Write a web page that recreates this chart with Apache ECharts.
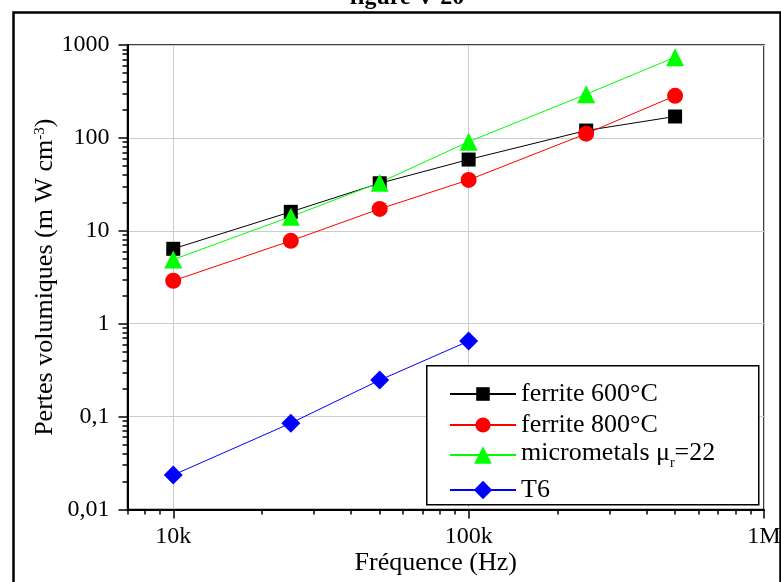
<!DOCTYPE html>
<html><head><meta charset="utf-8">
<script src="https://cdn.jsdelivr.net/npm/echarts@6/dist/echarts.min.js"></script>
<style>html,body{margin:0;padding:0;background:#fff}#c{width:781px;height:582px}</style>
</head><body><div id="c"></div>
<script>
// ---- data ----
const frequencies = [10000, 25000, 50000, 100000, 250000, 500000];
const ferrite600 = [6.4, 16, 32.5, 58.5, 120, 170];
const ferrite800 = [2.9, 7.8, 17.2, 35.3, 111, 284];
const micrometals = [4.9, 14.2, 33, 91, 295, 740];
const t6Freq = [10000, 25000, 50000, 100000];
const t6 = [0.0235, 0.085, 0.247, 0.65];
const seriesNames = ['ferrite 600°C', 'ferrite 800°C', 'micrometals μr=22', 'T6'];
const yMajor = [0.01, 0.1, 1, 10, 100, 1000];
const yTickLabels = ['0,01', '0,1', '1', '10', '100', '1000'];
const xMajor = [10000, 100000, 1000000];
const xTickLabels = ['10k', '100k', '1M'];
const titleText = 'figure V-20';
const xName = 'Fréquence (Hz)';

// minor ticks 2..9 per decade
function minors(lo, hi) {
  const out = [];
  for (let d = lo; d < hi; d *= 10) for (let k = 2; k <= 9; k++) {
    out.push(+(k * d).toPrecision(6));
  }
  return out;
}
const yMinor = minors(0.01, 1000);
const xMinor = minors(1000, 1000000).filter(v => v >= 7000);

function lookup(majors, labels, v) {
  for (let i = 0; i < majors.length; i++) if (Math.abs(v / majors[i] - 1) < 1e-6) return labels[i];
  return '';
}

const FONT = '"Liberation Serif", "Times New Roman", serif';
const pairs = (xs, ys) => xs.map((x, i) => [x, ys[i]]);

// one legend block per row
const legendRowCentres = [394, 425, 455, 490];
const legendIconHeights = [17, 19, 22, 23];
const legends = seriesNames.map((n, i) => {
  const base = {
    orient: 'vertical', left: 449, top: legendRowCentres[i] - 13, z: 60,
    padding: 0, itemWidth: 66, itemHeight: legendIconHeights[i], itemGap: 0, data: [n]
  };
  if (i === 2) {
    base.top = legendRowCentres[i] - 15;
    base.formatter = () => '{a|micrometals μ}{b|r}{a|=22}';
    base.textStyle = {fontFamily: FONT, fontSize: 26, color: '#000', padding: 0,
      rich: {a: {fontFamily: FONT, fontSize: 26, color: '#000', lineHeight: 19, verticalAlign: 'top'},
             b: {fontFamily: FONT, fontSize: 14, color: '#000', lineHeight: 30, verticalAlign: 'bottom'}}};
  } else {
    base.textStyle = {fontFamily: FONT, fontSize: 26, color: '#000', lineHeight: 19, padding: [0, 0, 7, 0]};
  }
  return base;
});

const chart = echarts.init(document.getElementById('c'), null, {renderer: 'canvas'});
chart.setOption({
  animation: false,
  backgroundColor: '#fff',
  title: {
    text: titleText, left: 402, textAlign: 'center', top: -19,
    textStyle: {fontFamily: FONT, fontWeight: 'bold', fontSize: 24, color: '#000'}
  },
  graphic: [
    {type: 'rect', left: 11, top: 10, z: 0, silent: true,
     shape: {width: 767, height: 620}, style: {fill: 'none', stroke: '#000', lineWidth: 2.5}},
    {type: 'rect', left: 426, top: 365, z: 50, silent: true,
     shape: {width: 332, height: 139}, style: {fill: '#fff', stroke: '#000', lineWidth: 1.5}}
  ],
  grid: {left: 127.5, right: 17, top: 45, bottom: 72.5, outerBoundsMode: 'none', containLabel: false,
         show: true, borderColor: '#000', borderWidth: 1.5, backgroundColor: 'transparent'},
  xAxis: [
    {type: 'log', logBase: 10, min: 7000, max: 1000000, position: 'bottom',
     name: xName, nameLocation: 'middle', nameGap: 41, nameMoveOverlap: false,
     nameTextStyle: {fontFamily: FONT, fontSize: 26, color: '#000', padding: [0, 20, 0, 0]},
     axisLine: {show: true, lineStyle: {color: '#000', width: 2}},
     axisTick: {show: true, inside: false, length: 9, lineStyle: {color: '#000', width: 1.5}, customValues: xMajor},
     axisLabel: {show: true, margin: 15, fontFamily: FONT, fontSize: 24, color: '#000', customValues: xMajor,
       formatter: v => lookup(xMajor, xTickLabels, v)},
     splitLine: {show: true, lineStyle: {color: '#cccccc', width: 1}}},
    {type: 'log', logBase: 10, min: 7000, max: 1000000, position: 'bottom',
     axisLine: {show: false}, axisLabel: {show: false}, splitLine: {show: false},
     axisTick: {show: true, inside: false, length: 5, lineStyle: {color: '#000', width: 1.5}, customValues: xMinor}}
  ],
  yAxis: [
    {type: 'log', logBase: 10, min: 0.01, max: 1000, position: 'left',
     name: 'Pertes volumiques (m W cm{sup|-3})', nameLocation: 'middle', nameGap: 69, nameMoveOverlap: false,
     nameTextStyle: {fontFamily: FONT, fontSize: 26, color: '#000',
       rich: {sup: {fontFamily: FONT, fontSize: 15, color: '#000', verticalAlign: 'top', lineHeight: 15}}},
     axisLine: {show: true, lineStyle: {color: '#000', width: 2}},
     axisTick: {show: true, inside: false, length: 9, lineStyle: {color: '#000', width: 1.5}},
     axisLabel: {show: true, margin: 18, fontFamily: FONT, fontSize: 24, color: '#000',
       formatter: v => lookup(yMajor, yTickLabels, v)},
     splitLine: {show: true, lineStyle: {color: '#cccccc', width: 1}}},
    {type: 'log', logBase: 10, min: 0.01, max: 1000, position: 'left',
     axisLine: {show: false}, axisLabel: {show: false}, splitLine: {show: false},
     axisTick: {show: true, inside: false, length: 5, lineStyle: {color: '#000', width: 1.5}, customValues: yMinor}}
  ],
  legend: legends,
  series: [
    {name: seriesNames[0], type: 'line', data: pairs(frequencies, ferrite600), symbol: 'rect', symbolSize: 14,
     itemStyle: {color: '#000'}, lineStyle: {color: '#000', width: 1}},
    {name: seriesNames[1], type: 'line', data: pairs(frequencies, ferrite800), symbol: 'circle', symbolSize: 16,
     itemStyle: {color: '#ff0000'}, lineStyle: {color: '#ff0000', width: 1}},
    {name: seriesNames[2], type: 'line', data: pairs(frequencies, micrometals), symbol: 'triangle', symbolSize: 18,
     itemStyle: {color: '#00ff00'}, lineStyle: {color: '#00ff00', width: 1}},
    {name: seriesNames[3], type: 'line', data: pairs(t6Freq, t6), symbol: 'diamond', symbolSize: 19,
     itemStyle: {color: '#0000ff'}, lineStyle: {color: '#0000ff', width: 1}}
  ]
});
</script></body></html>
